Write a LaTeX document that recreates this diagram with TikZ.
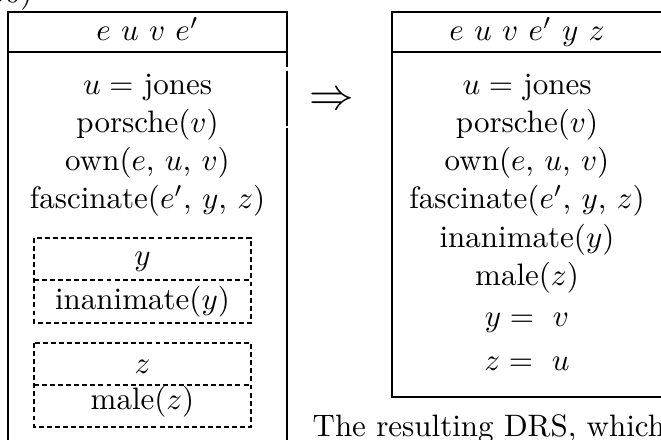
\documentclass[tikz,border=0pt]{standalone}
\usepackage{amssymb}
\usepackage{pgf, tikz}
\pgfdeclarelayer{edgelayer}
\pgfdeclarelayer{nodelayer}
\pgfsetlayers{edgelayer,nodelayer,main}
\tikzstyle{drsline}=[draw=black, line width=0.8pt]
\tikzstyle{subline}=[draw=black, line width=0.6pt, dash pattern=on 1.6pt off 1pt]
\tikzstyle{cond}=[anchor=base, inner sep=0pt]
\tikzstyle{bigsym}=[inner sep=0pt, font=\fontsize{13.6}{16}\selectfont]

\begin{document}
\begin{tikzpicture}[x=0.3226pt, y=-0.3226pt]
						\useasboundingbox (0, 0) rectangle (661, 440);
						\clip (0, 0) rectangle (661, 440);
						\begin{pgfonlayer}{nodelayer}
							\node [style=cond, anchor=base east] (0) at (33, 3) {(50)};
							\node [style=cond] (1) at (147.5, 41) {$e\ u\ v\ e'$};
							\node [style=cond] (2) at (147.5, 95) {$u =$ jones};
							\node [style=cond] (3) at (147.5, 133) {porsche($v$)};
							\node [style=cond] (4) at (147.5, 171) {own($e$, $u$, $v$)};
							\node [style=cond] (5) at (147.5, 209) {fascinate($e'$, $y$, $z$)};
							\node [style=cond] (6) at (142.5, 266) {$y$};
							\node [style=cond] (7) at (142.5, 310) {inanimate($y$)};
							\node [style=cond] (8) at (142.5, 374) {$z$};
							\node [style=cond] (9) at (142.5, 410) {male($z$)};
							\node [style=bigsym] (10) at (332, 101) {$\Rightarrow$};
							\node [style=cond] (11) at (527, 41) {$e\ u\ v\ e'\ y\ z$};
							\node [style=cond] (12) at (527, 95) {$u =$ jones};
							\node [style=cond] (13) at (527, 133) {porsche($v$)};
							\node [style=cond] (14) at (527, 171) {own($e$, $u$, $v$)};
							\node [style=cond] (15) at (527, 209) {fascinate($e'$, $y$, $z$)};
							\node [style=cond] (16) at (527, 248) {inanimate($y$)};
							\node [style=cond] (17) at (527, 286) {male($z$)};
							\node [style=cond] (18) at (527, 327) {$y =\ v$};
							\node [style=cond] (19) at (527, 371) {$z =\ u$};
							\node [style=cond, anchor=base west] (20) at (312, 437) {The resulting DRS, which};
						\end{pgfonlayer}
						\begin{pgfonlayer}{edgelayer}
							% left box
							\draw [style=drsline] (287, 67) -- (287, 12) -- (8, 12) -- (8, 470);
							\draw [style=drsline] (287, 71) -- (287, 126);
							\draw [style=drsline] (287, 128) -- (287, 470);
							\draw [style=drsline] (8, 52) -- (287, 52);
							\draw [style=subline] (34, 238) rectangle (251, 323);
							\draw [style=subline] (34, 280) -- (251, 280);
							\draw [style=subline] (34, 343) rectangle (251, 427);
							\draw [style=subline] (34, 385) -- (251, 385);
							% right box
							\draw [style=drsline] (392, 12) rectangle (665, 397);
							\draw [style=drsline] (392, 52) -- (665, 52);
						\end{pgfonlayer}
					\end{tikzpicture}
\end{document}
